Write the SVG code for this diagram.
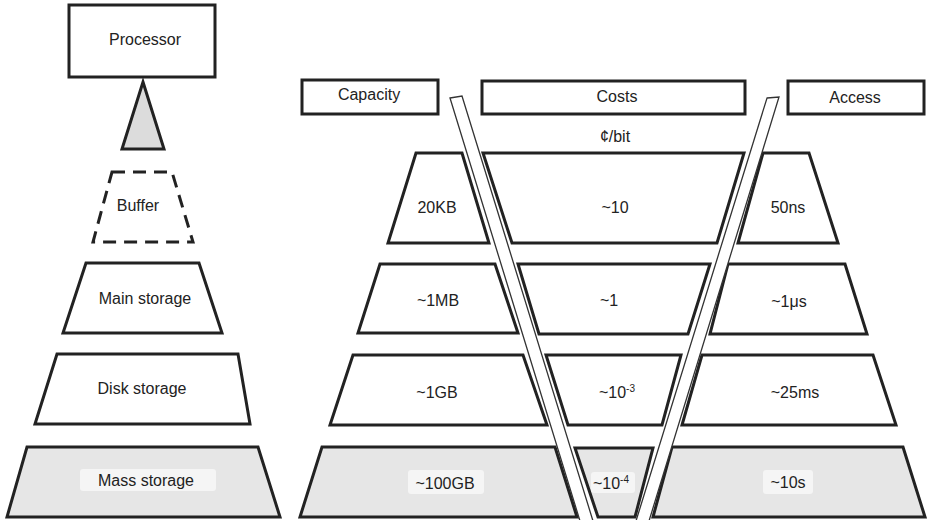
<svg xmlns="http://www.w3.org/2000/svg" width="927" height="520" viewBox="0 0 927 520">
<style>
.s{fill:#fff;stroke:#222;stroke-width:3;stroke-linejoin:miter}
.m{fill:#e6e6e6;stroke:#222;stroke-width:3}
.d{fill:none;stroke:#222;stroke-width:3;stroke-dasharray:13,8}
.bar{fill:#fff;stroke:#333;stroke-width:1.3}
.hl{fill:#f5f5f5}
text{font-family:"Liberation Sans",Arial,sans-serif;font-size:16px;fill:#222;text-anchor:middle}
.sup{font-size:10px}
</style>
<rect width="927" height="520" fill="#fff"/>
<g id="processor"><rect class="s" x="69" y="5" width="146" height="72"/><text x="145" y="45">Processor</text></g>
<g id="buffer"><polygon class="d" points="112,172 172,172 193,242 93,242"/><text x="138" y="211">Buffer</text></g>
<g id="main-storage"><polygon class="s" points="86,263 199,263 222,333 63,333"/><text x="145" y="304">Main storage</text></g>
<g id="disk-storage"><polygon class="s" points="57,354 238,354 250,424 35,424"/><text x="142" y="394">Disk storage</text></g>
<g id="mass-storage"><polygon class="m" points="27,447 258,447 280,517 7,517"/><rect class="hl" x="80" y="469" width="136" height="22" rx="3"/><text x="146" y="486">Mass storage</text></g>
<g id="connectors"><polygon fill="#dcdcdc" stroke="#222" stroke-width="3" points="143,82 164,149 122,149"/></g>
<g id="capacity-header"><rect class="s" x="302" y="80" width="136" height="34"/><text x="369" y="100">Capacity</text></g>
<g id="costs-header"><rect class="s" x="482" y="81" width="263" height="33"/><text x="617" y="102">Costs</text><text x="615" y="142">¢/bit</text></g>
<g id="access-header"><rect class="s" x="788" y="81" width="136" height="33"/><text x="855" y="103">Access</text></g>
<g id="cap-buffer"><polygon class="s" points="416,153 462,153 489,243 388,243"/><text x="437" y="213">20KB</text></g>
<g id="cost-buffer"><polygon class="s" points="483,153 744,153 717,243 512,243"/><text x="615" y="213">~10</text></g>
<g id="acc-buffer"><polygon class="s" points="763,153 809,153 838,243 738,243"/><text x="788" y="213">50ns</text></g>
<g id="cap-main"><polygon class="s" points="380,264 495,264 518,333 358,333"/><text x="438" y="306">~1MB</text></g>
<g id="cost-main"><polygon class="s" points="518,264 710,264 688,334 539,334"/><text x="609" y="306">~1</text></g>
<g id="acc-main"><polygon class="s" points="728,264 845,264 867,334 710,334"/><text x="789" y="307">~1μs</text></g>
<g id="cap-disk"><polygon class="s" points="353,355 523,355 547,425 330,425"/><text x="437" y="398">~1GB</text></g>
<g id="cost-disk"><polygon class="s" points="546,355 681,355 662,425 568,425"/><text x="617" y="398">~10<tspan class="sup" dy="-6">-3</tspan></text></g>
<g id="acc-disk"><polygon class="s" points="702,355 873,355 896,425 682,425"/><text x="795" y="398">~25ms</text></g>
<g id="cap-mass"><polygon class="m" points="322,447 555,447 577,517 300,517"/><rect class="hl" x="408" y="470" width="76" height="24" rx="3"/><text x="445" y="489">~100GB</text></g>
<g id="cost-mass"><polygon class="m" points="575,448 653,448 635,517 598,517"/><rect class="hl" x="591" y="472" width="44" height="21" rx="3"/><text x="611" y="489">~10<tspan class="sup" dy="-6">-4</tspan></text></g>
<g id="acc-mass"><polygon class="m" points="672,447 903,447 925,517 653,517"/><rect class="hl" x="763" y="470" width="50" height="24" rx="3"/><text x="788" y="488">~10s</text></g>
<g id="bars"><polygon class="bar" points="450,98 462,96 593,521 580,521"/><polygon class="bar" points="767,98 779,97 649,521 636,521"/></g>
</svg>
